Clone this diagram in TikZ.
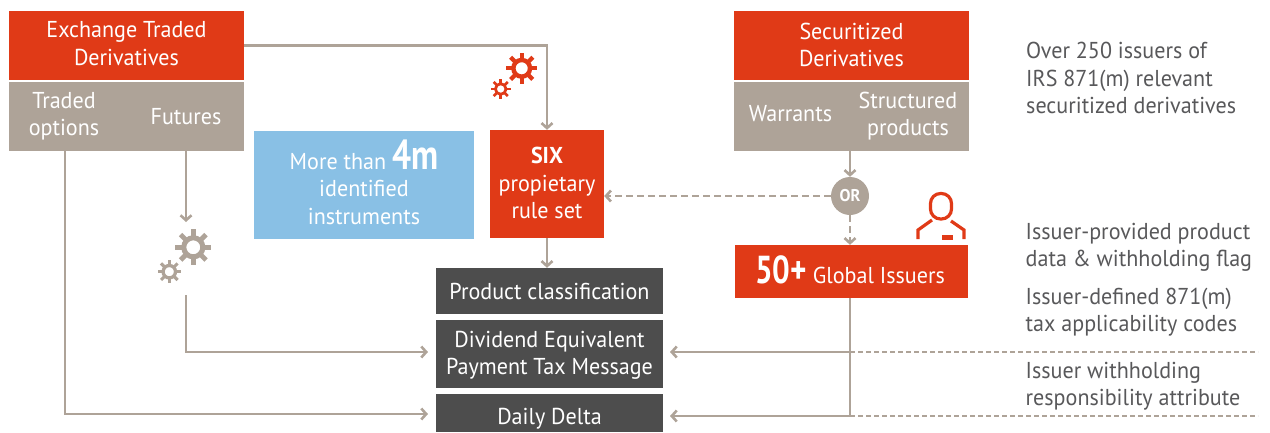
\documentclass[tikz,border=0pt]{standalone}
\usepackage{fontspec}
\setmainfont[FakeStretch=0.96]{PT Sans}
\newfontfamily\bigfont[FakeStretch=0.8]{PT Sans}
\usetikzlibrary{arrows.meta}
\definecolor{sixred}{HTML}{E03A17}
\definecolor{sixtaupe}{HTML}{AEA398}
\definecolor{sixblue}{HTML}{89C0E5}
\definecolor{sixdark}{HTML}{4D4D4D}
\definecolor{sixtext}{HTML}{58585A}
\newcommand{\txt}{\fontsize{23}{27.2}\selectfont}
\newcommand{\gearicon}[4]{%
\draw[#4,line width=0.28*#3 pt](#1,#2)circle(0.53*#3);
\foreach \ang in {0,45,...,315}
\draw[#4,line width=0.27*#3 pt](#1,#2)++(\ang:0.6*#3)--++(\ang:0.4*#3);
}
\tikzset{
block/.style={inner sep=0pt,minimum width=#1,align=center,text=white,font=\txt},
redbox/.style={block=235pt,fill=sixred,minimum height=69pt},
taupebox/.style={block=235pt,fill=sixtaupe,minimum height=69pt},
darkbox/.style={block=227pt,fill=sixdark},
note/.style={anchor=west,align=left,text=sixtext,inner sep=0pt,font=\txt},
flow/.style={draw=sixtaupe,line width=2.6pt,-{Straight Barb[length=5pt,width=11pt,line width=2.6pt]}},
link/.style={draw=sixtaupe,line width=2.6pt},
dashflow/.style={flow,dash pattern=on 7pt off 4pt},
dashlink/.style={draw=sixtaupe,line width=1.8pt,dash pattern=on 5pt off 3pt}
}
\begin{document}
\begin{tikzpicture}[x=1pt,y=-1pt]
\useasboundingbox(0,0)rectangle(1270,432);
%
\node[redbox](etd)at(126.5,45.5){};
\node[block=200pt](etdtext)at(126.5,43.5){Exchange Traded\\Derivatives};
\node[taupebox](etdsub)at(126.5,116.5){};
\node[block=100pt](options)at(64,116.5){Traded\\options};
\node[block=100pt](futures)at(186,116.5){Futures};
\node[redbox](sec)at(851.5,45.5){};
\node[block=200pt](sectext)at(851.5,45){Securitized\\Derivatives};
\node[taupebox](secsub)at(851.5,116.5){};
\node[block=100pt](warrants)at(790.5,114){Warrants};
\node[block=110pt](structured)at(908,116.5){Structured\\products};
%
\node[block=220pt,fill=sixblue,minimum height=108pt](more)at(364,185){};
\node[block=200pt](moretext)at(364,189)
{More than \smash{\bigfont\fontsize{42}{42}\selectfont\bfseries 4m}\\identified\\instruments};
\node[block=114pt,fill=sixred,minimum height=108pt](six)at(547,184){};
\node[block=110pt](sixtext)at(547,183)
{{\bfseries SIX}\\propietary\\rule set};
%
\node[darkbox,minimum height=46pt](prod)at(549.5,291){Product classification};
\node[darkbox,minimum height=68pt](tax)at(549.5,354){};
\node[block=220pt](taxtext)at(549.5,355){Dividend Equivalent\\Payment Tax Message};
\node[darkbox,minimum height=38pt,text height=30pt,text depth=8pt](delta)at(549.5,413){Daily Delta};
%
\node[circle,fill=sixtaupe,minimum size=38pt,inner sep=0pt,text=white,font=\fontsize{17}{17}\selectfont\bfseries](or)at(850,196){OR};
\node[block=233pt,fill=sixred,minimum height=53pt](issuers)at(851.5,271.5){};
\node[block=200pt](issuerstext)at(850,270)
{{\bigfont\fontsize{39}{39}\selectfont\bfseries 50+} Global Issuers};
%
\node[note](n1)at(1026,78){Over 250 issuers of\\IRS 871(m) relevant\\securitized derivatives};
\node[note](n2)at(1025.5,247.5){Issuer-provided product\\data \& withholding flag};
\node[note](n3)at(1025.5,312){Issuer-defined 871(m)\\tax applicability codes};
\node[note](n4)at(1025.5,386.5){Issuer withholding\\responsibility attribute};
%
\coordinate(futa)at(186,151);
\coordinate(futb)at(186,222);
\coordinate(futc)at(186,295);
\coordinate(opta)at(65,151);
\coordinate(taxend)at(1258,352);
\coordinate(deltaend)at(1258,416);
\coordinate(taxjoin)at(850,352);
\coordinate(deltajoin)at(850,416);
\coordinate(taxin)at(428,352);
\coordinate(deltain)at(428,414);
\coordinate(taxout)at(670,352);
\coordinate(deltaout)at(670,416);
\coordinate(issout)at(850,298);
%
\draw[flow](etd.east)-|(six.north);
\draw[flow](six.south)--(six.south|-prod.north);
\draw[flow](futa)--(futb);
\draw[flow](futc)|-(taxin);
\draw[flow](opta)|-(deltain);
\draw[flow](secsub.south-|or)--(or.north);
\draw[dashflow](or.west)--(or.west-|six.east);
\draw[dashflow](or.south)--(or|-issuers.north);
\draw[link](issout)--(deltajoin);
\draw[flow](taxjoin)--(taxout);
\draw[flow](deltajoin)--(deltaout);
\draw[dashlink](taxjoin)--(taxend);
\draw[dashlink](deltajoin)--(deltaend);
%
\gearicon{193.3}{247.3}{18}{sixtaupe}
\gearicon{169.3}{271.7}{11.7}{sixtaupe}
\gearicon{521.7}{68.3}{15.7}{sixred}
\gearicon{500.7}{89}{10}{sixred}
%
\draw[sixred,line width=3.2pt,rounded corners=10pt](930.5,193.5)rectangle(951.5,219);
\draw[sixred,line width=3.2pt](918,239)--(918,230)--(932,220);
\draw[sixred,line width=3.2pt](964,239)--(964,230)--(951,221);
\fill[sixred](942,235)rectangle(953,239.5);
\end{tikzpicture}
\end{document}
